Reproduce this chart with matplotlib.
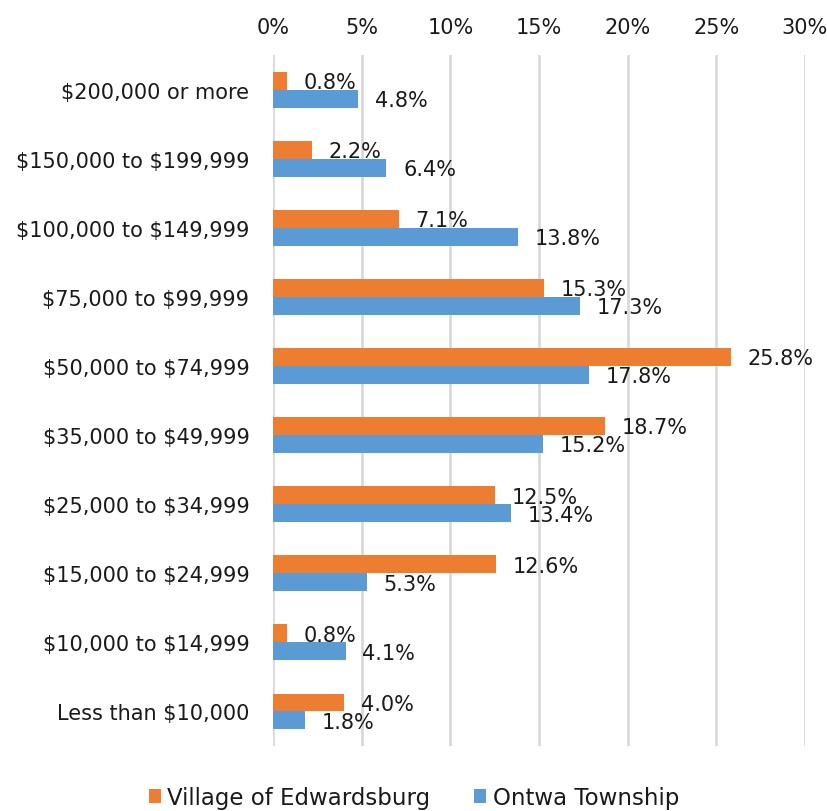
import matplotlib
matplotlib.use('Agg')
import matplotlib.pyplot as plt
import numpy as np

plt.rcParams['font.family'] = ['DejaVu Sans']
plt.rcParams['text.parse_math'] = False

categories = ['$200,000 or more', '$150,000 to $199,999', '$100,000 to $149,999',
              '$75,000 to $99,999', '$50,000 to $74,999', '$35,000 to $49,999',
              '$25,000 to $34,999', '$15,000 to $24,999', '$10,000 to $14,999',
              'Less than $10,000']
edwardsburg = [0.8, 2.2, 7.1, 15.3, 25.8, 18.7, 12.5, 12.6, 0.8, 4.0]
ontwa = [4.8, 6.4, 13.8, 17.3, 17.8, 15.2, 13.4, 5.3, 4.1, 1.8]
series_names = ['Village of Edwardsburg', 'Ontwa Township']
xticks = [0, 5, 10, 15, 20, 25, 30]

orange = '#ED7D31'
blue = '#5B9BD5'
txt = '#1a1a1a'
fs = 15

fig = plt.figure(figsize=(8.28, 8.12), dpi=100)
ax = fig.add_axes([0.3297, 0.080, 0.6425, 0.851])

y = np.arange(len(categories))
h = 0.26
ax.barh(y - h / 2, edwardsburg, height=h, color=orange, label=series_names[0], zorder=3)
ax.barh(y + h / 2, ontwa, height=h, color=blue, label=series_names[1], zorder=3)

for i in range(len(categories)):
    ax.annotate('%.1f%%' % edwardsburg[i], (edwardsburg[i], y[i] - h / 2 + 0.02),
                xytext=(12, 0), textcoords='offset points', ha='left', va='center',
                fontsize=fs, color=txt, zorder=4)
    ax.annotate('%.1f%%' % ontwa[i], (ontwa[i], y[i] + h / 2 + 0.02),
                xytext=(12, 0), textcoords='offset points', ha='left', va='center',
                fontsize=fs, color=txt, zorder=4)

ax.set_xlim(0, 30)
ax.set_ylim(len(categories) - 0.5, -0.5)
ax.set_yticks(y)
ax.set_yticklabels(categories)
ax.set_xticks(xticks)
ax.set_xticklabels(['%d%%' % t for t in xticks])
ax.xaxis.tick_top()
ax.tick_params(axis='x', length=0, pad=13, labelsize=fs, colors=txt)
ax.tick_params(axis='y', length=0, pad=17, labelsize=fs, colors=txt)
ax.grid(axis='x', color='#D9D9D9', linewidth=2, zorder=0)
ax.grid(axis='y', visible=False)
for s in ax.spines.values():
    s.set_visible(False)

fig.legend(loc='lower center', bbox_to_anchor=(0.5, -0.023), ncol=2, frameon=False,
           fontsize=16.5, handlelength=0.52, handleheight=0.52, handletextpad=0.3,
           columnspacing=1.9, labelcolor=txt)

plt.savefig('out.png', dpi=100)
